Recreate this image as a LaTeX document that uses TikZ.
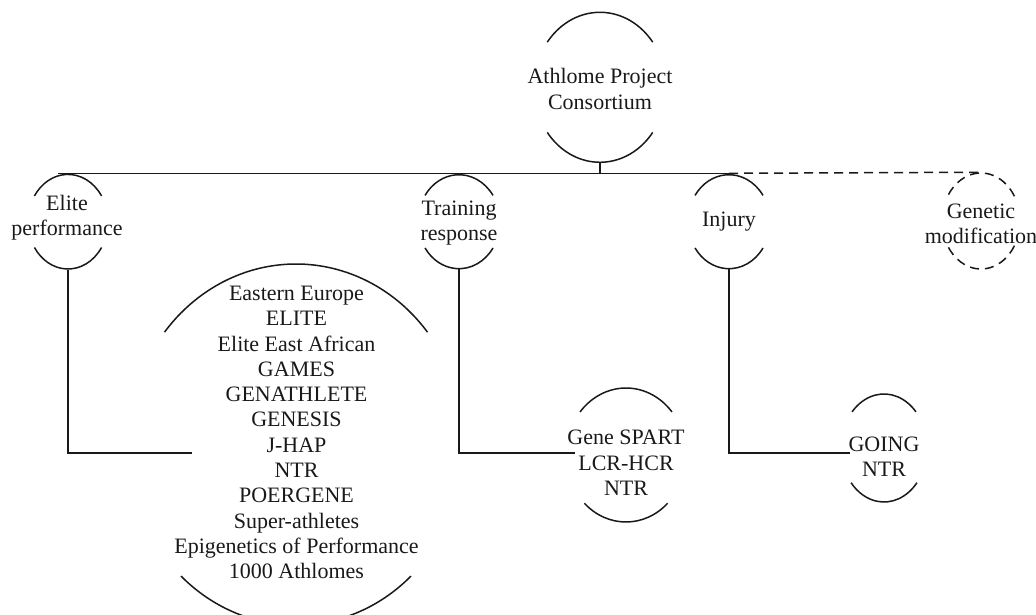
\documentclass[tikz,border=0pt]{standalone}
\usepackage{fontspec}
\setmainfont{Liberation Serif}
\usetikzlibrary{calc,shapes.geometric}
% #1 options, #2 centre node, #3 x radius, #4 y radius, #5 top cut angle, #6 bottom cut angle
\newcommand\ellcaps[6]{%
  \draw[#1] ([shift={(#5:#3pt and #4pt)}]#2.center) arc[start angle=#5, end angle={180-#5}, x radius=#3pt, y radius=#4pt];
  \draw[#1] ([shift={(-#6:#3pt and #4pt)}]#2.center) arc[start angle=-#6, end angle={-180+#6}, x radius=#3pt, y radius=#4pt];}
\begin{document}
\begin{tikzpicture}[x=1pt,y=1pt,line width=1.5pt,
  lbl/.style={align=center,inner sep=0pt,text=black!90,font=\fontsize{22}{25.3}\selectfont},
  ell/.style 2 args={shape=ellipse,draw=none,inner sep=0pt,minimum width=2*#1pt,minimum height=2*#2pt},
  link/.style={draw=black!90},
  dlink/.style={draw=black!90,dash pattern=on 9pt off 6pt}]
\useasboundingbox (0,0) rectangle (1036,615);
\begin{scope}
\clip (0,0) rectangle (1036,615);
% ellipse frames
\node[ell={66}{75}] (rootE) at (600,527.7) {};
\node[ell={40}{47.3}] (eliteE) at (68,393.3) {};
\node[ell={41}{47}] (trainE) at (459,393.3) {};
\node[ell={41}{47}] (injE) at (729,393.3) {};
\node[ell={39}{48}] (genE) at (981,394) {};
\node[ell={168}{180.5}] (listE) at (296,170.5) {};
\node[ell={60}{67}] (spartE) at (626,160) {};
\node[ell={43}{54}] (goingE) at (884,167) {};
\ellcaps{link}{rootE}{66}{75}{37}{37}
\ellcaps{link}{eliteE}{40}{47.3}{33}{33}
\ellcaps{link}{trainE}{41}{47}{34}{34}
\ellcaps{link}{injE}{41}{47}{34}{34}
\ellcaps{dlink}{genE}{39}{48}{31}{31}
\ellcaps{link}{listE}{168}{180.5}{38.5}{46.8}
\ellcaps{link}{spartE}{60}{67}{40}{46}
\ellcaps{link}{goingE}{43}{54}{42}{40}
% texts
\node[lbl] (root) at (600,526) {Athlome Project\\Consortium};
\node[lbl] (elite) at (67,397.5) {Elite\\performance};
\node[lbl] (train) at (459,392) {Training\\response};
\node[lbl] (inj) at (729,393) {Injury};
\node[lbl] (gen) at (981,391) {Genetic\\modification};
\node[lbl] (list) at (296.5,182.5) {Eastern Europe\\ELITE\\Elite East African\\GAMES\\GENATHLETE\\GENESIS\\J-HAP\\NTR\\POERGENE\\Super-athletes\\Epigenetics of Performance\\1000 Athlomes};
\node[lbl] (spart) at (626,152) {Gene SPART\\LCR-HCR\\NTR};
\node[lbl] (going) at (884,158) {GOING\\NTR};
% connector ends
\coordinate (barL) at (58,441.7);
\coordinate (listIn) at (192,162);
\coordinate (spartIn) at (575,162);
\coordinate (goingIn) at (850,162);
% connectors
\draw[link] (rootE.south) -- (rootE.south |- barL);
\draw[link] (barL) -- (barL -| injE.north);
\draw[dlink] (barL -| injE.north) -- (genE.north);
\draw[link] (eliteE.south) -- (eliteE.south |- listIn) -- (listIn);
\draw[link] (trainE.south) -- (trainE.south |- spartIn) -- (spartIn);
\draw[link] (injE.south) -- (injE.south |- goingIn) -- (goingIn);
\end{scope}
\end{tikzpicture}
\end{document}
